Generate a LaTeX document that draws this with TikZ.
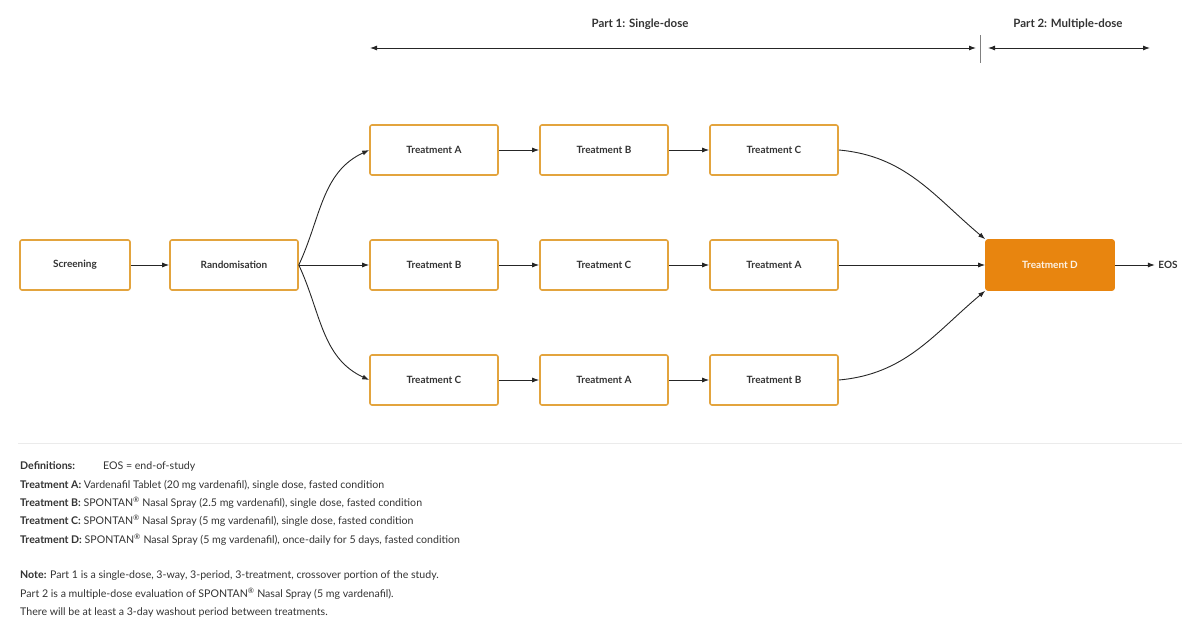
\documentclass[tikz,border=0pt]{standalone}
\usepackage{fontspec}
\setmainfont{Lato}
\usetikzlibrary{arrows.meta}
\definecolor{gold}{HTML}{E3A43E}
\definecolor{orng}{HTML}{E8850F}
\definecolor{txt}{HTML}{333333}
\begin{document}
\begin{tikzpicture}[x=1pt,y=-1pt,
 box/.style={draw=gold,line width=1.6pt,rounded corners=2pt,minimum width=128pt,minimum height=50pt,font=\fontsize{10}{12}\selectfont\bfseries,text=txt},
 arr/.style={-{Latex[length=7pt,width=5pt]},line width=0.9pt,draw=black!85},
 darr/.style={{Latex[length=7pt,width=5pt]}-{Latex[length=7pt,width=5pt]},line width=0.9pt,draw=black!85},
 note/.style={anchor=west,font=\fontsize{10.6}{12}\selectfont,text=txt,inner sep=0pt}]
\useasboundingbox (0,0) rectangle (1200,629);
\node[box,minimum width=110pt] (s) at (75,265) {Screening};
\node[box] (r) at (234,265) {Randomisation};
\node[box] (a1) at (434,150) {Treatment A};
\node[box] (b1) at (604,150) {Treatment B};
\node[box] (c1) at (774,150) {Treatment C};
\node[box] (b2) at (434,265) {Treatment B};
\node[box] (c2) at (604,265) {Treatment C};
\node[box] (a2) at (774,265) {Treatment A};
\node[box] (c3) at (434,380) {Treatment C};
\node[box] (a3) at (604,380) {Treatment A};
\node[box] (b3) at (774,380) {Treatment B};
\node[box,fill=orng,draw=orng,text=white!90!orng] (d) at (1050,265) {Treatment D};
\node[font=\fontsize{10}{12}\selectfont\bfseries,text=txt] (e) at (1168,265) {EOS};
\draw[arr] (s) -- (r);
\draw[arr] (r.east) to[out=65,in=205] (a1.west);
\draw[arr] (r) -- (b2);
\draw[arr] (r.east) to[out=-65,in=155] (c3.west);
\draw[arr] (a1)--(b1); \draw[arr] (b1)--(c1);
\draw[arr] (b2)--(c2); \draw[arr] (c2)--(a2);
\draw[arr] (c3)--(a3); \draw[arr] (a3)--(b3);
\draw[arr] (c1.east) to[out=-5,in=140] (d.north west);
\draw[arr] (a2) -- (d);
\draw[arr] (b3.east) to[out=5,in=-140] (d.south west);
\draw[arr] (d) -- (e);
\coordinate (p1l) at (370,48); \coordinate (p1r) at (976,48);
\coordinate (p2l) at (988,48); \coordinate (p2r) at (1150,48);
\draw[darr] (p1l) -- (p1r);
\draw[darr] (p2l) -- (p2r);
\draw[gray,line width=0.8pt] (980,35) -- (980,63);
\node[font=\fontsize{11.5}{13}\selectfont\bfseries,text=txt] (t1) at (640,24) {Part 1: Single-dose};
\node[font=\fontsize{11.5}{13}\selectfont\bfseries,text=txt] (t2) at (1068,24) {Part 2: Multiple-dose};
\draw[black!8,line width=1pt] (18,443) -- (1182,443);
\node[note] (n0) at (20,466) {\textbf{Definitions:}\hspace{28pt}EOS = end-of-study};
\node[note] (n1) at (20,485) {\textbf{Treatment A:} Vardenafil Tablet (20 mg vardenafil), single dose, fasted condition};
\node[note] (n2) at (20,503) {\textbf{Treatment B:} SPONTAN\textsuperscript{®} Nasal Spray (2.5 mg vardenafil), single dose, fasted condition};
\node[note] (n3) at (20,521) {\textbf{Treatment C:} SPONTAN\textsuperscript{®} Nasal Spray (5 mg vardenafil), single dose, fasted condition};
\node[note] (n4) at (20,540) {\textbf{Treatment D:} SPONTAN\textsuperscript{®} Nasal Spray (5 mg vardenafil), once-daily for 5 days, fasted condition};
\node[note] (n5) at (20,576) {\textbf{Note:} Part 1 is a single-dose, 3-way, 3-period, 3-treatment, crossover portion of the study.};
\node[note] (n6) at (20,594) {Part 2 is a multiple-dose evaluation of SPONTAN\textsuperscript{®} Nasal Spray (5 mg vardenafil).};
\node[note] (n7) at (20,612) {There will be at least a 3-day washout period between treatments.};
\end{tikzpicture}
\end{document}
